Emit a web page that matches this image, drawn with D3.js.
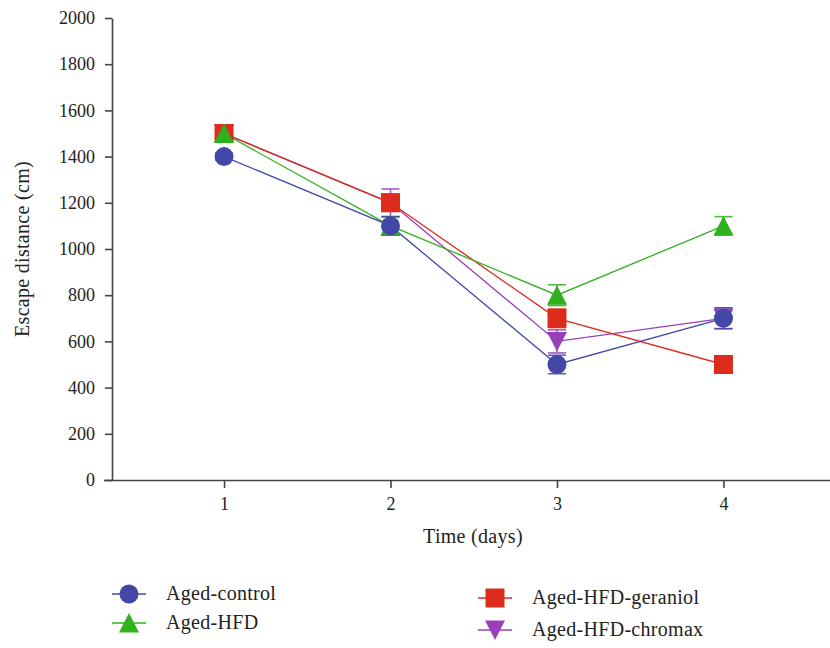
<!DOCTYPE html>
<html>
<head>
<meta charset="utf-8">
<script src="https://cdn.jsdelivr.net/npm/d3@7"></script>
<style>
  body { margin: 0; background: #fff; }
  text { font-family: "Liberation Serif", "DejaVu Serif", serif; fill: #222; }
</style>
</head>
<body>
<script>
const days = [1, 2, 3, 4];
const yTicks = [0, 200, 400, 600, 800, 1000, 1200, 1400, 1600, 1800, 2000];

const seriesNames = ["Aged-control", "Aged-HFD", "Aged-HFD-geraniol", "Aged-HFD-chromax"];
const controlMean = [1400, 1100, 500, 700];
const controlErr = [15, 40, 40, 45];
const hfdMean = [1500, 1100, 800, 1100];
const hfdErr = [15, 40, 45, 40];
const geraniolMean = [1500, 1200, 700, 500];
const geraniolErr = [15, 30, 40, 15];
const chromaxMean = [1500, 1200, 600, 700];
const chromaxErr = [15, 60, 50, 45];

const colors = {
  "Aged-control": "#4348a8",
  "Aged-HFD": "#30b11e",
  "Aged-HFD-geraniol": "#dd2b1c",
  "Aged-HFD-chromax": "#9a3fba",
};
const shapes = {
  "Aged-control": "circle",
  "Aged-HFD": "up",
  "Aged-HFD-geraniol": "square",
  "Aged-HFD-chromax": "down",
};

// drawing order: later ones on top
const series = [
  { name: "Aged-HFD-chromax", mean: chromaxMean, err: chromaxErr },
  { name: "Aged-HFD-geraniol", mean: geraniolMean, err: geraniolErr },
  { name: "Aged-HFD", mean: hfdMean, err: hfdErr },
  { name: "Aged-control", mean: controlMean, err: controlErr },
];

const width = 830, height = 648;
const x = d3.scaleLinear().domain([0.327, 4.64]).range([112, 830]);
const y = d3.scaleLinear().domain([0, 2000]).range([480, 18]);

const svg = d3.select("body").append("svg")
  .attr("width", width).attr("height", height);

const shapePath = (kind) => {
  if (kind === "circle") return d3.symbol(d3.symbolCircle, Math.PI * 9.5 * 9.5)();
  if (kind === "square") return "M-9.5,-9.5H9.5V9.5H-9.5Z";
  if (kind === "up") return "M0,-10L10,9.5L-10,9.5Z";
  return "M0,10L10,-9.5L-10,-9.5Z";
};

// axes
const xAxis = svg.append("g")
  .attr("transform", `translate(0,${y(0)})`)
  .call(d3.axisBottom(x).tickValues(days).tickFormat(d3.format("d"))
    .tickSize(8).tickSizeOuter(0).tickPadding(9));
xAxis.select(".domain").attr("d", `M104,0.5H830`);

const yAxis = svg.append("g")
  .attr("transform", `translate(${x.range()[0]},0)`)
  .call(d3.axisLeft(y).tickValues(yTicks).tickFormat(d3.format("d"))
    .tickSize(7).tickSizeOuter(0).tickPadding(10));

svg.selectAll(".domain, .tick line").attr("stroke", "#444").attr("stroke-width", 1.6);
svg.selectAll(".tick text")
  .style("font-family", "'Liberation Serif', serif")
  .style("font-size", "18px");

svg.append("text")
  .attr("transform", `translate(29,${y(1000)}) rotate(-90)`)
  .attr("text-anchor", "middle")
  .style("font-size", "20px")
  .style("letter-spacing", "0.3px")
  .text("Escape distance (cm)");

svg.append("text")
  .attr("x", 473).attr("y", 543)
  .attr("text-anchor", "middle")
  .style("font-size", "20px")
  .style("letter-spacing", "0.3px")
  .text("Time (days)");

// lines, error bars, markers
const line = d3.line().x((d, i) => x(days[i])).y((d) => y(d));

series.forEach((s) => {
  svg.append("path")
    .attr("d", line(s.mean))
    .attr("fill", "none")
    .attr("stroke", colors[s.name])
    .attr("stroke-width", 1.3);
});

series.forEach((s) => {
  const g = svg.append("g").attr("stroke", colors[s.name]).attr("stroke-width", 1.6).attr("opacity", 0.85);
  s.mean.forEach((m, i) => {
    const cx = x(days[i]);
    g.append("line").attr("x1", cx).attr("x2", cx).attr("y1", y(m - s.err[i])).attr("y2", y(m + s.err[i]));
    [m - s.err[i], m + s.err[i]].forEach((v) => {
      g.append("line").attr("x1", cx - 9).attr("x2", cx + 9).attr("y1", y(v)).attr("y2", y(v));
    });
  });
});

series.forEach((s) => {
  svg.append("g").selectAll("path")
    .data(s.mean)
    .join("path")
    .attr("d", shapePath(shapes[s.name]))
    .attr("transform", (d, i) => `translate(${x(days[i])},${y(d)})`)
    .attr("fill", colors[s.name]);
});

// legend
const legendPos = [
  { name: "Aged-control", x: 129, y: 594 },
  { name: "Aged-HFD", x: 129, y: 623 },
  { name: "Aged-HFD-geraniol", x: 495, y: 598 },
  { name: "Aged-HFD-chromax", x: 495, y: 630 },
];
legendPos.forEach((p) => {
  const c = colors[p.name];
  const g = svg.append("g").attr("transform", `translate(${p.x},${p.y})`);
  g.append("line").attr("x1", -17).attr("x2", 17).attr("stroke", c).attr("stroke-width", 1.3);
  g.append("path").attr("d", shapePath(shapes[p.name])).attr("fill", c);
  g.append("text").attr("x", 37).attr("y", 6)
    .style("font-size", "20px").style("letter-spacing", "0.3px").text(p.name);
});
</script>
</body>
</html>
